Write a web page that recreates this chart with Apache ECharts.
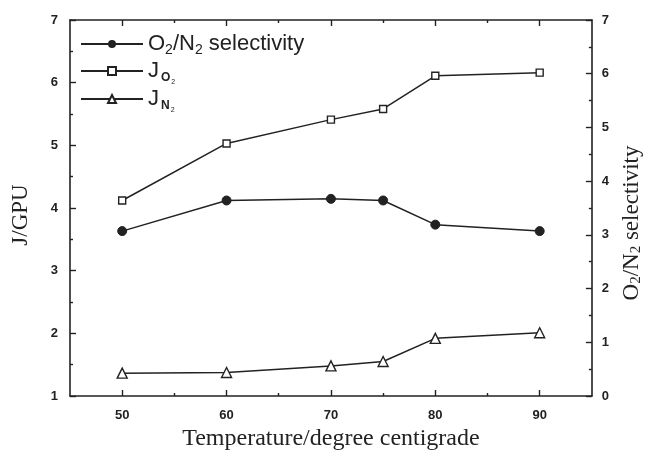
<!DOCTYPE html>
<html><head><meta charset="utf-8">
<script src="https://cdn.jsdelivr.net/npm/echarts@6/dist/echarts.min.js"></script>
<style>html,body{margin:0;padding:0;background:#fff}#c{width:652px;height:456px}</style>
</head><body><div id="c"></div>
<script>
const temperatures = [50, 60, 70, 75, 80, 90];
const selectivity = [3.07, 3.64, 3.67, 3.64, 3.19, 3.07];
const jO2 = [4.12, 5.03, 5.41, 5.58, 6.11, 6.16];
const jN2 = [1.365, 1.375, 1.48, 1.55, 1.92, 2.01];
const xMajorTicks = [50, 60, 70, 80, 90];
const xMinorTicks = [55, 65, 75, 85];

const C = '#222';
const chart = echarts.init(document.getElementById('c'));
const pairs = a => temperatures.map((t, i) => [t, a[i]]);
const lineStyle = {color: C, width: 1.5};
const tickFont = {color: '#222', fontSize: 13, fontWeight: 'bold', fontFamily: 'Liberation Sans'};

function xAx(pos, ticks, len, labels, line) {
  return {
    type: 'value', position: pos, min: 45, max: 95, interval: 5, gridIndex: 0,
    axisLine: {show: line, lineStyle: {color: C, width: 1.6}},
    axisTick: {show: true, inside: true, length: len, customValues: ticks, lineStyle: {color: C, width: 1.4}},
    axisLabel: labels ? {show: true, customValues: xMajorTicks, margin: 13, ...tickFont} : {show: false},
    splitLine: {show: false}
  };
}

const legendText = {color: '#222', fontSize: 22, fontFamily: 'Liberation Sans', fontWeight: 'normal',
  rich: {s: {fontSize: 14, fontFamily: 'Liberation Sans', padding: [12, 0, 0, 0], color: '#222'},
         o: {fontSize: 12, fontWeight: 'bold', fontFamily: 'Liberation Sans', padding: [14, 0, 0, 2], color: '#222'},
         t: {fontSize: 7, fontFamily: 'Liberation Sans', padding: [22, 0, 0, 1], color: '#222'}}};
const legendNames = {sel: 'O{s|2}/N{s|2} selectivity', jo2: 'J{o|O}{t|2}', jn2: 'J{o|N}{t|2}'};
function leg(name, top) {
  return {orient: 'vertical', left: 80, top: top, itemWidth: 62, itemHeight: 10, padding: 0,
    data: [name], formatter: n => legendNames[n], textStyle: legendText};
}

chart.setOption({
  animation: false,
  backgroundColor: '#fff',
  grid: {left: 70, right: 50, top: 20, bottom: 58},
  legend: [leg('sel', 33), leg('jo2', 60), leg('jn2', 88)],
  xAxis: [
    Object.assign(xAx('bottom', xMajorTicks, 6, true, true), {
      name: 'Temperature/degree centigrade', nameLocation: 'middle', nameGap: 31,
      nameTextStyle: {fontFamily: 'Liberation Serif', fontSize: 24, color: '#222'}}),
    xAx('bottom', xMinorTicks, 3, false, false),
    xAx('top', xMajorTicks, 6, false, true),
    xAx('top', xMinorTicks, 3, false, false)
  ],
  yAxis: [
    {type: 'value', position: 'left', min: 1, max: 7, interval: 1,
     name: 'J/GPU', nameLocation: 'middle', nameGap: 38,
     nameTextStyle: {fontFamily: 'Liberation Serif', fontSize: 23, color: '#222', padding: [0, 0, 0, -14]},
     axisLine: {show: true, lineStyle: {color: C, width: 1.6}},
     axisTick: {inside: true, length: 6, lineStyle: {color: C, width: 1.4}},
     minorTick: {show: true, splitNumber: 2, length: 3, lineStyle: {color: C, width: 1.4}},
     axisLabel: {margin: 12, ...tickFont}, splitLine: {show: false}},
    {type: 'value', position: 'right', min: 0, max: 7, interval: 1,
     name: 'O{s|2}/N{s|2} selectivity', nameLocation: 'middle', nameGap: 24, nameRotate: 90,
     nameTextStyle: {fontFamily: 'Liberation Serif', fontSize: 23, color: '#222', padding: [0, 30, 0, 0],
       rich: {s: {fontFamily: 'Liberation Serif', fontSize: 15, padding: [10, 0, 0, 0], color: '#222'}}},
     axisLine: {show: true, lineStyle: {color: C, width: 1.6}},
     axisTick: {inside: true, length: 6, lineStyle: {color: C, width: 1.4}},
     minorTick: {show: true, splitNumber: 2, length: 3, lineStyle: {color: C, width: 1.4}},
     axisLabel: {margin: 10, ...tickFont}, splitLine: {show: false}}
  ],
  series: [
    {name: 'sel', type: 'line', yAxisIndex: 1, data: pairs(selectivity), symbol: 'circle', symbolSize: 9,
     lineStyle, itemStyle: {color: C, borderColor: C}},
    {name: 'jo2', type: 'line', yAxisIndex: 0, data: pairs(jO2), symbol: 'rect', symbolSize: 7,
     lineStyle, itemStyle: {color: '#fff', borderColor: C, borderWidth: 1.4}},
    {name: 'jn2', type: 'line', yAxisIndex: 0, data: pairs(jN2), symbol: 'triangle', symbolSize: 10,
     lineStyle, itemStyle: {color: '#fff', borderColor: C, borderWidth: 1.4}}
  ]
});
</script></body></html>
